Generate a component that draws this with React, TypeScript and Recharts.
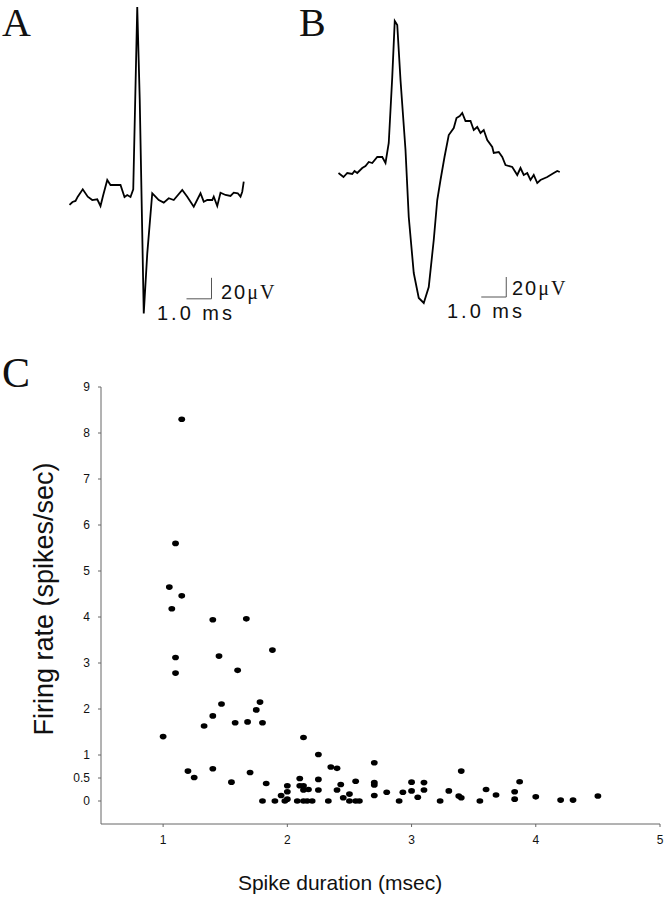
import React from 'react';
import { LineChart, Line, XAxis, YAxis, ReferenceLine, ScatterChart, Scatter } from 'recharts';

// ---------- Panel A: narrow spike waveform (time in ms, voltage in µV) ----------
const traceATime = [0, 0.12, 0.24, 0.33, 0.53, 0.73, 0.91, 1.11, 1.24, 1.35, 1.51, 1.64, 2.04, 2.2, 2.31, 2.44, 2.55, 2.71, 2.81, 2.97, 3.11, 3.31, 3.44, 3.57, 3.77, 3.97, 4.17, 4.51, 4.71, 4.97, 5.24, 5.37, 5.51, 5.71, 5.77, 5.91, 6.04, 6.24, 6.44, 6.57, 6.73, 6.84, 6.91, 6.97];
const traceAVolt = [-7.6, -4.8, -3.8, 0.3, 7.3, 0.3, -2.9, -2.2, -8.6, 1.9, 16.2, 11.4, 11.4, 0, 1.9, 0, 7.3, 181, 92, -111, -54, 3.5, 0.3, -2.9, -5.4, -1.2, -2.9, 6.7, 0.3, -9.2, 3.5, -4.5, -2.9, -2.9, 0.3, -8.6, 4.1, 1.9, 1, 4.1, 3.5, 0.3, 5, 14.6];

// ---------- Panel B: broad spike waveform ----------
const traceBTime = [0, 0.2, 0.35, 0.55, 0.64, 0.75, 0.95, 1.08, 1.21, 1.35, 1.55, 1.75, 1.88, 2.01, 2.15, 2.25, 2.35, 2.48, 2.68, 2.81, 3.01, 3.21, 3.41, 3.61, 3.81, 3.95, 4.08, 4.24, 4.41, 4.61, 4.72, 4.85, 4.95, 5.08, 5.28, 5.41, 5.55, 5.68, 5.81, 5.95, 6.15, 6.21, 6.41, 6.55, 6.68, 6.95, 7.15, 7.28, 7.41, 7.55, 7.68, 7.81, 7.95, 8.08, 8.35, 8.61, 8.75, 8.85];
const traceBVolt = [2, -2, 2, 1, 4, 2, 7, 9, 13, 12, 18, 18, 12, 32, 98, 154, 150, 95, 25, -42, -98, -123, -128, -112, -65, -25, -5, 18, 40, 47, 57, 59, 62, 54, 54, 45, 48, 42, 45, 35, 28, 22, 23, 18, 10, 8, 0, 7, 0, 2, -5, 0, -8, -5, -2, 2, 4, 3];

// scale bars: 1.0 ms x 20 µV  [tStart, tEnd, vBottom, vTop]
const scaleBarA = [4.68, 5.68, -97, -77];
const scaleBarB = [5.71, 6.71, -122, -102];

// ---------- Panel C: firing rate vs spike duration ----------
const spikeDuration = [1.15, 1.10, 1.05, 1.15, 1.07, 1.40, 1.67, 1.10, 1.10, 1.45, 1.60, 1.88, 1.00, 1.33, 1.40, 1.47, 1.58, 1.68, 1.75, 1.78, 1.80, 2.13, 1.20, 1.25, 1.40, 1.55, 1.70, 2.25, 1.83, 1.80, 1.90, 1.95, 2.00, 2.00, 1.98, 2.00, 2.08, 2.10, 2.10, 2.13, 2.13, 2.17, 2.13, 2.16, 2.20, 2.25, 2.25, 2.33, 2.35, 2.40, 2.40, 2.43, 2.45, 2.50, 2.50, 2.55, 2.55, 2.58, 2.70, 2.70, 2.70, 2.70, 2.80, 2.90, 2.93, 3.00, 3.00, 3.05, 3.10, 3.10, 3.23, 3.30, 3.38, 3.40, 3.40, 3.55, 3.60, 3.68, 3.83, 3.83, 3.87, 4.00, 4.20, 4.30, 4.50];
const firingRate = [8.30, 5.60, 4.65, 4.46, 4.18, 3.94, 3.96, 3.12, 2.78, 3.15, 2.84, 3.28, 1.40, 1.63, 1.85, 2.11, 1.70, 1.72, 1.98, 2.15, 1.70, 1.38, 0.65, 0.51, 0.70, 0.41, 0.62, 1.01, 0.38, 0, 0, 0.12, 0.33, 0.20, 0, 0.04, 0, 0.49, 0.33, 0.33, 0.24, 0.25, 0, 0, 0, 0.47, 0.24, 0, 0.74, 0.71, 0.24, 0.36, 0.07, 0.15, 0, 0.43, 0, 0, 0.83, 0.40, 0.35, 0.12, 0.19, 0, 0.19, 0.41, 0.22, 0.08, 0.40, 0.24, 0, 0.22, 0.11, 0.07, 0.65, 0, 0.25, 0.13, 0.20, 0.04, 0.42, 0.09, 0.02, 0.02, 0.11];

const xTicks = [1, 2, 3, 4, 5];
const yTicks = [0, 0.5, 1, 2, 3, 4, 5, 6, 7, 8, 9];

const traceAData = traceATime.map((t, i) => ({ t, v: traceAVolt[i] }));
const traceBData = traceBTime.map((t, i) => ({ t, v: traceBVolt[i] }));
const scatterData = spikeDuration.map((x, i) => ({ x, y: firingRate[i] }));

const SANS = '"Liberation Sans", Arial, sans-serif';
const SERIF = '"Liberation Serif", "Times New Roman", serif';

const Dot = (props: any) => {
  const { cx, cy } = props;
  if (cx == null || cy == null) return null;
  return <ellipse cx={cx} cy={cy} rx={3.4} ry={2.8} fill="#000" />;
};

function Trace({ data, bar, yDomain }: { data: any[]; bar: number[]; yDomain: number[] }) {
  return (
    <LineChart width={250} height={330} data={data} margin={{ top: 0, right: 0, bottom: 0, left: 0 }}>
      <XAxis type="number" dataKey="t" domain={[-0.5, 9.5]} hide allowDataOverflow />
      <YAxis type="number" domain={yDomain} hide allowDataOverflow />
      <Line type="linear" dataKey="v" stroke="#000" strokeWidth={1.8} dot={false} isAnimationActive={false} />
      <ReferenceLine segment={[{ x: bar[0], y: bar[2] }, { x: bar[1], y: bar[2] }]} stroke="#555" strokeWidth={1} ifOverflow="visible" />
      <ReferenceLine segment={[{ x: bar[1], y: bar[2] }, { x: bar[1], y: bar[3] }]} stroke="#555" strokeWidth={1} ifOverflow="visible" />
    </LineChart>
  );
}

export default function App() {
  return (
    <div style={{ position: 'absolute', left: 0, top: 0, width: 667, height: 899, background: '#fff', overflow: 'hidden' }}>
      <div style={{ position: 'absolute', left: 56.5, top: 0 }}>
        <Trace data={traceAData} bar={scaleBarA} yDomain={[-126.7, 187.6]} />
      </div>
      <div style={{ position: 'absolute', left: 325.5, top: 0 }}>
        <Trace data={traceBData} bar={scaleBarB} yDomain={[-155, 175]} />
      </div>
      <div style={{ position: 'absolute', left: 0, top: 330 }}>
        <ScatterChart width={667} height={569} margin={{ top: 57, right: 7, bottom: 45, left: 0 }}>
          <XAxis
            type="number"
            dataKey="x"
            domain={[0.5, 5]}
            ticks={xTicks}
            interval={0}
            height={30}
            tickSize={3}
            tickMargin={8}
            stroke="#666"
            tick={{ fill: '#111', fontSize: 12, fontFamily: SANS }}
            allowDataOverflow
          />
          <YAxis
            type="number"
            dataKey="y"
            domain={[-0.5, 9]}
            ticks={yTicks}
            interval={0}
            width={101}
            tickSize={3}
            tickMargin={8}
            stroke="#666"
            tick={{ fill: '#111', fontSize: 12, fontFamily: SANS }}
            allowDataOverflow
          />
          <Scatter data={scatterData} fill="#000" shape={Dot} isAnimationActive={false} />
        </ScatterChart>
      </div>
      <svg width={667} height={899} style={{ position: 'absolute', left: 0, top: 0, pointerEvents: 'none' }}>
        <text x={2} y={36} fontFamily={SERIF} fontSize={40} fill="#111">A</text>
        <text x={299} y={36} fontFamily={SERIF} fontSize={40} fill="#111">B</text>
        <text x={2} y={387} fontFamily={SERIF} fontSize={42} fill="#111">C</text>

        <text x={221} y={299} fontFamily={SANS} fontSize={20} letterSpacing={2} fill="#111">
          20<tspan fontFamily={SERIF}>μV</tspan>
        </text>
        <text x={157} y={320} fontFamily={SANS} fontSize={20} letterSpacing={3} fill="#111">1.0 ms</text>

        <text x={512} y={295} fontFamily={SANS} fontSize={20} letterSpacing={2} fill="#111">
          20<tspan fontFamily={SERIF}>μV</tspan>
        </text>
        <text x={447} y={318} fontFamily={SANS} fontSize={20} letterSpacing={3} fill="#111">1.0 ms</text>

        <text transform="translate(53, 599) rotate(-90)" textAnchor="middle" fontFamily={SANS} fontSize={27} fill="#111">
          Firing rate (spikes/sec)
        </text>
        <text x={340} y={890} textAnchor="middle" fontFamily={SANS} fontSize={21} fill="#111">
          Spike duration (msec)
        </text>
      </svg>
    </div>
  );
}
